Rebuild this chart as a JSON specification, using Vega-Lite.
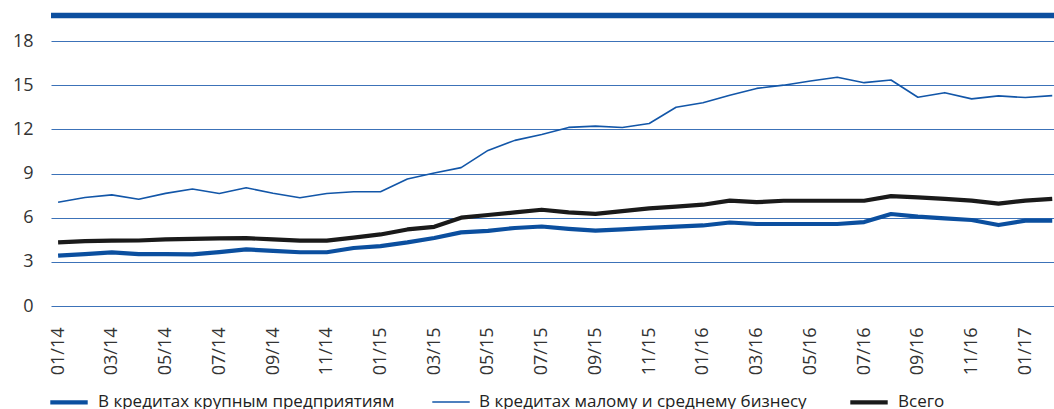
{
  "$schema": "https://vega.github.io/schema/vega-lite/v6.json",
  "width": 1003,
  "height": 265,
  "autosize": "none",
  "padding": {"left": 51, "top": 41, "right": 0, "bottom": 103},
  "background": "white",
  "config": {
    "view": {"stroke": null},
    "font": "Open Sans",
    "axis": {"labelFont": "Open Sans", "labelColor": "#333333", "labelFontSize": 18, "ticks": false, "domain": false, "title": null}
  },
  "datasets": {
    "band": [{"v": 19.73}],
    "main": [
      {"m":"01/14","A":3.42,"B":7.05,"C":4.32},
      {"m":"02/14","A":3.53,"B":7.37,"C":4.4},
      {"m":"03/14","A":3.64,"B":7.55,"C":4.44},
      {"m":"04/14","A":3.53,"B":7.25,"C":4.45},
      {"m":"05/14","A":3.52,"B":7.65,"C":4.52},
      {"m":"06/14","A":3.51,"B":7.95,"C":4.56},
      {"m":"07/14","A":3.66,"B":7.64,"C":4.6},
      {"m":"08/14","A":3.85,"B":8.03,"C":4.61},
      {"m":"09/14","A":3.74,"B":7.66,"C":4.52},
      {"m":"10/14","A":3.65,"B":7.35,"C":4.44},
      {"m":"11/14","A":3.65,"B":7.64,"C":4.44},
      {"m":"12/14","A":3.94,"B":7.76,"C":4.64},
      {"m":"01/15","A":4.07,"B":7.76,"C":4.86},
      {"m":"02/15","A":4.32,"B":8.62,"C":5.2},
      {"m":"03/15","A":4.62,"B":9.04,"C":5.38},
      {"m":"04/15","A":5.0,"B":9.4,"C":6.0},
      {"m":"05/15","A":5.1,"B":10.57,"C":6.18},
      {"m":"06/15","A":5.3,"B":11.25,"C":6.36},
      {"m":"07/15","A":5.4,"B":11.65,"C":6.54},
      {"m":"08/15","A":5.24,"B":12.13,"C":6.36},
      {"m":"09/15","A":5.12,"B":12.22,"C":6.26},
      {"m":"10/15","A":5.21,"B":12.12,"C":6.44},
      {"m":"11/15","A":5.3,"B":12.4,"C":6.63},
      {"m":"12/15","A":5.39,"B":13.5,"C":6.75},
      {"m":"01/16","A":5.47,"B":13.8,"C":6.88},
      {"m":"02/16","A":5.67,"B":14.32,"C":7.16},
      {"m":"03/16","A":5.57,"B":14.78,"C":7.05},
      {"m":"04/16","A":5.57,"B":15.0,"C":7.15},
      {"m":"05/16","A":5.57,"B":15.28,"C":7.15},
      {"m":"06/16","A":5.57,"B":15.54,"C":7.15},
      {"m":"07/16","A":5.7,"B":15.17,"C":7.15},
      {"m":"08/16","A":6.25,"B":15.35,"C":7.46},
      {"m":"09/16","A":6.07,"B":14.18,"C":7.38},
      {"m":"10/16","A":5.95,"B":14.49,"C":7.27},
      {"m":"11/16","A":5.84,"B":14.07,"C":7.16},
      {"m":"12/16","A":5.5,"B":14.27,"C":6.95},
      {"m":"01/17","A":5.8,"B":14.16,"C":7.16},
      {"m":"02/17","A":5.8,"B":14.29,"C":7.27}
    ]
  },
  "layer": [
    {
      "data": {"name": "band"},
      "mark": {"type": "rule", "color": "#0c4f9f", "strokeWidth": 5.5},
      "encoding": {
        "y": {"field": "v", "type": "quantitative", "scale": {"domain": [0, 18], "nice": false, "zero": true}}
      }
    },
    {
      "data": {"name": "main"},
      "transform": [
        {"fold": ["A", "B", "C"], "as": ["k", "v"]},
        {"lookup": "k", "from": {"data": {"values": [
          {"k": "A", "s": "В кредитах крупным предприятиям"},
          {"k": "B", "s": "В кредитах малому и среднему бизнесу"},
          {"k": "C", "s": "Всего"}
        ]}, "key": "k", "fields": ["s"]}}
      ],
      "mark": {"type": "line", "strokeJoin": "round"},
      "encoding": {
        "x": {
          "field": "m", "type": "ordinal", "sort": null,
          "scale": {"padding": 0.165, "align": 0.8},
          "axis": {
            "values": ["01/14","03/14","05/14","07/14","09/14","11/14","01/15","03/15","05/15","07/15","09/15","11/15","01/16","03/16","05/16","07/16","09/16","11/16","01/17"],
            "labelAngle": -90, "labelPadding": 21, "grid": false
          }
        },
        "y": {
          "field": "v", "type": "quantitative",
          "scale": {"domain": [0, 18], "nice": false, "zero": true},
          "axis": {"values": [0, 3, 6, 9, 12, 15, 18], "grid": true, "gridColor": "#3c72b8", "gridWidth": 1.2, "labelPadding": 18}
        },
        "color": {
          "field": "s", "type": "nominal", "title": null,
          "scale": {"domain": ["В кредитах крупным предприятиям", "В кредитах малому и среднему бизнесу", "Всего"], "range": ["#0b4f9f", "#1256a8", "#1a1a1a"]},
          "legend": {
            "orient": "none", "legendX": -3, "legendY": 340, "direction": "horizontal",
            "symbolType": "stroke", "symbolSize": 1400, "labelFontSize": 17, "labelFont": "Open Sans", "labelColor": "#222222",
            "columnPadding": 34, "labelOffset": 8, "labelLimit": 600
          }
        },
        "strokeWidth": {
          "field": "s", "type": "nominal", "title": null,
          "scale": {"type": "ordinal", "domain": ["В кредитах крупным предприятиям", "В кредитах малому и среднему бизнесу", "Всего"], "range": [4.2, 1.6, 4.2]},
          "legend": {
            "orient": "none", "legendX": -3, "legendY": 340, "direction": "horizontal",
            "symbolType": "stroke", "symbolSize": 1400, "labelFontSize": 17, "labelFont": "Open Sans", "labelColor": "#222222",
            "columnPadding": 34, "labelOffset": 8, "labelLimit": 600
          }
        }
      }
    }
  ]
}
